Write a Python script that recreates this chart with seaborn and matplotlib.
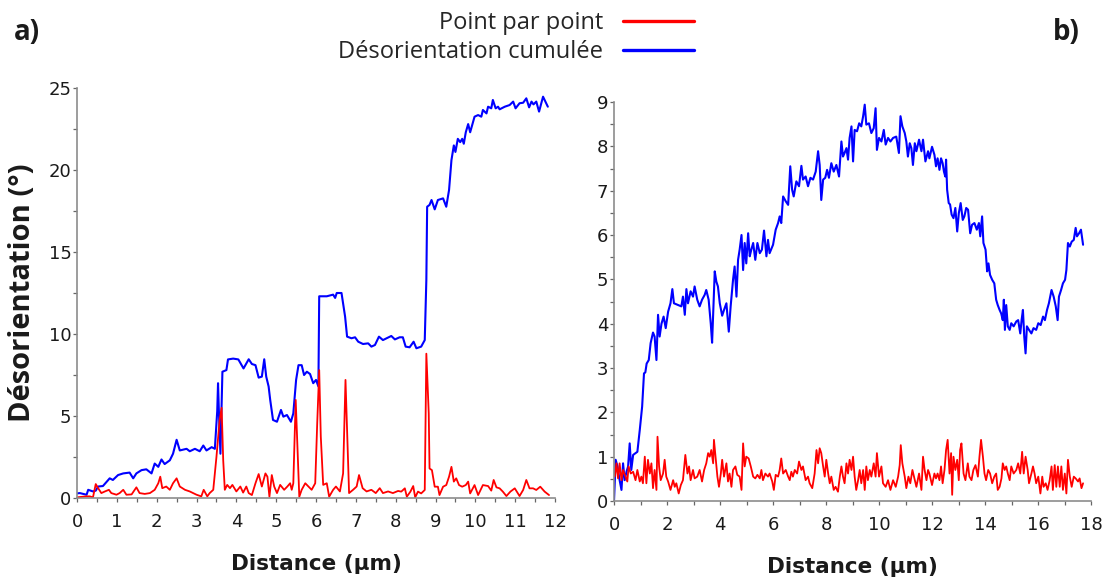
import matplotlib
matplotlib.use("Agg")
import matplotlib.pyplot as plt
import seaborn as sns
from matplotlib.ticker import MultipleLocator
from matplotlib.lines import Line2D

# ---- panel a) : distance (um) / misorientation (deg) ----
a_dist_cum = [0.0, 0.07, 0.24, 0.28, 0.4, 0.47, 0.53, 0.65, 0.82, 0.9,
              1.03, 1.16, 1.32, 1.41, 1.49, 1.62, 1.74, 1.87, 1.95, 2.04,
              2.12, 2.2, 2.33, 2.41, 2.5, 2.58, 2.75, 2.83, 2.96, 3.08,
              3.17, 3.25, 3.38, 3.46, 3.52, 3.54, 3.56, 3.6, 3.65, 3.75,
              3.79, 3.92, 4.05,
              4.18, 4.31, 4.39, 4.48, 4.56, 4.64, 4.7, 4.75, 4.81, 4.85,
              4.92, 5.02, 5.12, 5.18, 5.27, 5.37, 5.43, 5.5, 5.56, 5.64,
              5.7, 5.77, 5.85, 5.93, 6.0, 6.06, 6.08, 6.27, 6.43, 6.48,
              6.52, 6.64, 6.73, 6.78, 6.89, 6.98, 7.06, 7.18, 7.31, 7.39,
              7.48, 7.58, 7.68, 7.77, 7.89, 7.98,
              8.1, 8.18, 8.25, 8.35, 8.45, 8.52, 8.64, 8.73, 8.77, 8.79,
              8.85, 8.9, 8.98, 9.06, 9.19, 9.27, 9.34, 9.4, 9.46, 9.5,
              9.56, 9.62, 9.67, 9.71, 9.76, 9.82, 9.87, 9.98, 10.07, 10.15,
              10.19, 10.28, 10.32, 10.4, 10.44, 10.51, 10.57, 10.61, 10.74, 10.86,
              10.95, 11.01, 11.11, 11.2, 11.28, 11.35, 11.41, 11.46, 11.53, 11.6,
              11.7, 11.82]
a_cum = [0.28, 0.3, 0.2, 0.5, 0.4, 0.45, 0.7, 0.73, 1.2, 1.1,
         1.4, 1.5, 1.55, 1.2, 1.5, 1.7, 1.75, 1.5, 2.1, 1.9,
         2.35, 2.07, 2.3, 2.7, 3.55, 2.9, 3.0, 2.85, 3.0, 2.85,
         3.2, 2.9, 3.1, 3.0, 5.3, 7.0, 5.4, 2.7, 7.7, 7.8,
         8.45, 8.5, 8.45,
         7.9, 8.46, 8.17, 8.1, 7.34, 7.4, 8.46, 7.4, 6.8, 5.98,
         4.76, 4.65, 5.37, 4.96, 5.06, 4.65, 5.16, 7.2, 8.1, 8.1,
         7.5, 7.7, 7.56, 7.0, 7.2, 6.8, 12.3, 12.3, 12.4, 12.2,
         12.5, 12.5, 11.06, 9.84, 9.74, 9.8, 9.53, 9.39, 9.43, 9.23,
         9.33, 9.84, 9.63, 9.74, 9.88, 9.67,
         9.8, 9.8, 9.23, 9.19, 9.53, 9.13, 9.23, 9.63, 13.3, 17.76,
         17.87, 18.17, 17.6, 18.17, 18.27, 17.76, 18.78, 20.6, 21.5, 21.1,
         21.9, 21.7, 21.9, 21.6, 22.3, 22.8, 22.3, 23.25, 23.35, 23.25,
         23.66, 23.45, 23.86, 23.76, 24.27, 23.76, 23.86, 23.7, 23.86, 23.96,
         24.17, 23.76, 24.07, 24.1, 24.37, 23.82, 24.17, 24.0, 24.17, 23.56,
         24.47, 23.86]

a_dist_pp = [0.0, 0.23, 0.32, 0.4, 0.47, 0.53, 0.61, 0.7, 0.8, 0.86,
             0.99, 1.07, 1.16, 1.24, 1.37, 1.49, 1.57, 1.7, 1.83, 1.95,
             2.04, 2.09, 2.14, 2.24, 2.33, 2.41, 2.5, 2.58, 2.71, 2.83,
             3.0, 3.12, 3.18, 3.27, 3.33, 3.42, 3.5, 3.58, 3.63, 3.67,
             3.71, 3.77, 3.84, 3.9, 4.0,
             4.1, 4.17, 4.25, 4.31, 4.39, 4.48, 4.56, 4.64, 4.73, 4.78,
             4.83, 4.89, 4.95, 5.02, 5.1, 5.2, 5.28, 5.35, 5.39, 5.43,
             5.49, 5.54, 5.58, 5.64, 5.73, 5.81, 5.89, 5.98, 6.03, 6.08,
             6.12, 6.18, 6.27, 6.33, 6.43, 6.5, 6.6, 6.68, 6.74, 6.78,
             6.83, 6.93, 7.02, 7.08, 7.17, 7.27, 7.39, 7.5, 7.6, 7.68,
             7.81, 7.93, 8.06,
             8.14, 8.23, 8.28, 8.37, 8.44, 8.49, 8.56, 8.64, 8.73, 8.77,
             8.79, 8.83, 8.85, 8.91, 8.98, 9.06, 9.1, 9.19, 9.27, 9.34,
             9.4, 9.46, 9.52, 9.59, 9.67, 9.76, 9.82, 9.87, 9.98, 10.07,
             10.19, 10.32, 10.4, 10.46, 10.53, 10.61, 10.69, 10.78, 10.88, 10.99,
             11.11, 11.2, 11.28, 11.36, 11.45, 11.53, 11.63, 11.74, 11.85]
a_pp = [0.04, 0.1, 0.1, 0.04, 0.85, 0.6, 0.3, 0.4, 0.5, 0.3,
        0.2, 0.3, 0.5, 0.2, 0.22, 0.65, 0.3, 0.25, 0.3, 0.5,
        0.9, 1.3, 0.6, 0.7, 0.5, 0.9, 1.2, 0.7, 0.5, 0.4,
        0.2, 0.1, 0.5, 0.1, 0.3, 0.5, 2.5, 4.75, 5.5, 2.3,
        0.5, 0.8, 0.6, 0.8, 0.4,
        0.7, 0.33, 0.7, 0.3, 0.18, 0.9, 1.46, 0.7, 1.5, 1.3,
        0.08, 1.4, 0.7, 0.3, 0.8, 0.5, 0.7, 0.9, 0.5, 0.9,
        5.98, 2.7, 0.08, 0.5, 0.9, 0.7, 0.5, 0.9, 4.55, 7.8,
        3.74, 0.8, 0.9, 0.08, 0.5, 0.7, 0.4, 1.5, 7.2, 4.15,
        0.3, 0.5, 0.7, 1.4, 0.6, 0.4, 0.5, 0.3, 0.6, 0.3,
        0.4, 0.3, 0.43,
        0.39, 0.59, 0.08, 0.39, 0.73, 0.04, 0.39, 0.28, 0.49, 8.8,
        7.6, 5.16, 1.8, 1.7, 0.69, 0.69, 0.18, 0.69, 0.79, 1.3,
        1.9, 1.0, 1.2, 0.79, 0.69, 0.79, 1.0, 0.28, 0.79, 0.18,
        0.79, 0.73, 0.45, 1.1, 0.65, 0.59, 0.39, 0.12, 0.39, 0.59,
        0.12, 0.49, 1.1, 0.59, 0.59, 0.49, 0.69, 0.39, 0.18]

# ---- panel b) ----
b_dist_cum = [0.0, 0.06, 0.13, 0.21, 0.28, 0.34, 0.4, 0.47, 0.53, 0.59,
              0.65, 0.72, 0.81, 0.88, 0.97, 1.06, 1.13, 1.18, 1.23, 1.31,
              1.38, 1.47, 1.53, 1.6, 1.66, 1.72, 1.79, 1.87, 1.95, 2.04,
              2.13, 2.2, 2.26, 2.42, 2.54, 2.6, 2.67, 2.73, 2.79, 2.89,
              2.98, 3.04, 3.14, 3.23, 3.32, 3.42, 3.48, 3.57, 3.65, 3.7,
              3.75, 3.8, 3.86, 3.92, 3.99, 4.08, 4.15, 4.24, 4.33, 4.4,
              4.49, 4.55, 4.62, 4.68, 4.74, 4.81, 4.87, 4.93, 4.99, 5.06,
              5.12, 5.18, 5.25, 5.33, 5.41, 5.5, 5.58, 5.66, 5.75, 5.81,
              5.87,
              6.0, 6.1, 6.19, 6.25, 6.31, 6.38, 6.48, 6.57, 6.65, 6.72,
              6.78, 6.88, 6.98, 7.07, 7.13, 7.23, 7.32, 7.41, 7.51, 7.61,
              7.7, 7.76, 7.82, 7.89, 7.97, 8.04, 8.11, 8.2, 8.29, 8.39,
              8.49, 8.58, 8.64, 8.7, 8.77, 8.83, 8.89, 8.96, 9.02, 9.08,
              9.17, 9.25, 9.33, 9.4, 9.46, 9.52, 9.62, 9.71, 9.8, 9.87,
              9.92, 10.0, 10.09, 10.18, 10.25, 10.34, 10.43, 10.53, 10.65, 10.75,
              10.81, 10.88, 10.97, 11.03, 11.09, 11.16, 11.22, 11.28, 11.35, 11.41,
              11.51, 11.6, 11.66, 11.75, 11.85,
              11.9, 12.0, 12.09, 12.15, 12.21, 12.28, 12.34, 12.4, 12.45, 12.5,
              12.53, 12.57, 12.63, 12.68, 12.74, 12.81, 12.88, 12.95, 13.01, 13.08,
              13.16, 13.22, 13.29, 13.36, 13.44, 13.51, 13.6, 13.69, 13.77, 13.82,
              13.89, 13.94, 14.02, 14.08, 14.13, 14.19, 14.27, 14.35, 14.42, 14.48,
              14.55, 14.61, 14.67, 14.71, 14.75, 14.8, 14.86, 14.93, 14.99, 15.08,
              15.18, 15.25, 15.33, 15.38, 15.43, 15.48, 15.53, 15.58, 15.66, 15.75,
              15.83, 15.93, 16.01, 16.1, 16.19, 16.26, 16.34, 16.41, 16.51, 16.59,
              16.67, 16.74, 16.79, 16.87, 16.94, 17.02, 17.07, 17.13, 17.2, 17.27,
              17.35, 17.42, 17.47, 17.55, 17.62, 17.7]
b_cum = [0.02, 0.93, 0.78, 0.47, 0.25, 0.85, 0.47, 0.66, 0.78, 1.3,
         0.7, 1.04, 1.08, 1.11, 1.6, 2.13, 2.88, 2.9, 3.1, 3.18,
         3.56, 3.8, 3.71, 3.18, 4.2, 3.71, 4.0, 4.16, 3.9, 4.27,
         4.46, 4.78, 4.46, 4.42, 4.39, 4.61, 4.2, 4.78, 4.46, 4.73,
         4.61, 4.84, 4.54, 4.39, 4.54, 4.65, 4.76, 4.54, 4.0, 3.57,
         4.39, 5.18, 4.95, 4.84, 4.46, 4.18, 4.31, 4.46, 3.82, 4.39,
         4.99, 5.29, 4.61, 5.44, 5.67, 6.0, 5.21, 5.82, 5.36, 6.04,
         5.52, 5.67, 5.82, 5.44, 5.82, 5.59, 5.67, 6.1, 5.52, 5.89,
         5.59,
         5.78, 6.12, 6.27, 6.42, 6.27, 6.87, 6.76, 6.68, 7.55, 7.02,
         6.87, 7.21, 7.1, 7.56, 7.25, 7.32, 7.1, 7.29, 7.25, 7.43,
         7.89, 7.58, 6.79, 7.25, 7.29, 7.47, 7.29, 7.62, 7.43, 7.58,
         7.32, 8.11, 7.77, 7.85, 7.96, 7.7, 8.19, 8.45, 7.66, 8.37,
         8.34, 8.52, 8.45, 8.68, 8.94, 8.49, 8.52, 8.3, 8.41, 8.86,
         7.92, 8.19, 8.11, 8.37, 8.04, 8.19, 8.11, 8.19, 8.22, 7.85,
         8.68, 8.45, 8.3, 8.11, 7.77, 8.07, 7.96, 7.58, 8.07, 7.89,
         8.15, 7.89, 8.15, 7.66, 7.89,
         7.73, 7.99, 7.81, 7.55, 7.73, 7.47, 7.73, 7.62, 7.43, 7.32,
         7.7, 7.02, 6.72, 6.69, 6.46, 6.38, 6.61, 6.08, 6.49, 6.72,
         6.34, 6.42, 6.61, 6.57, 6.04, 6.23, 6.27, 6.12, 6.27, 5.97,
         6.42, 5.82, 5.67, 5.18, 5.36, 5.1, 4.99, 4.91, 4.54, 4.42,
         4.31, 4.23, 4.08, 4.54, 3.86, 4.42, 3.94, 3.86, 4.01, 3.94,
         4.05, 4.08, 3.78, 4.08, 4.31, 3.71, 3.33, 3.94, 3.86, 3.78,
         3.9, 3.86, 4.01, 3.97, 4.16, 4.08, 4.31, 4.46, 4.76, 4.61,
         4.39, 4.08, 4.61, 4.76, 4.91, 4.99, 5.21, 5.82, 5.74, 5.85,
         5.89, 6.16, 5.97, 6.04, 6.12, 5.78]

b_dist_pp = [0.03, 0.09, 0.15, 0.21, 0.28, 0.34, 0.43, 0.5, 0.55, 0.63,
             0.72, 0.81, 0.88, 0.97, 1.03, 1.09, 1.16, 1.22, 1.28, 1.35,
             1.41, 1.47, 1.53, 1.6, 1.64, 1.7, 1.76, 1.85, 1.91, 1.97,
             2.04, 2.13, 2.23, 2.29, 2.35, 2.44, 2.52, 2.6, 2.69, 2.77,
             2.83, 2.89, 2.98, 3.04, 3.14, 3.23, 3.32, 3.4, 3.48, 3.55,
             3.61, 3.67, 3.74, 3.77, 3.84, 3.9, 3.96, 4.03, 4.08, 4.15,
             4.24, 4.3, 4.36, 4.43, 4.49, 4.58, 4.65, 4.74, 4.81, 4.87,
             4.93, 4.99, 5.08, 5.16, 5.25, 5.33, 5.41, 5.5, 5.56, 5.62,
             5.71, 5.81,
             5.87, 5.97, 6.03, 6.1, 6.19, 6.25, 6.31, 6.38, 6.48, 6.57,
             6.63, 6.69, 6.75, 6.82, 6.91, 6.98, 7.07, 7.13, 7.23, 7.32,
             7.38, 7.48, 7.57, 7.64, 7.7, 7.76, 7.82, 7.89, 7.95, 8.01,
             8.08, 8.14, 8.2, 8.29, 8.36, 8.45, 8.52, 8.58, 8.64, 8.7,
             8.77, 8.83, 8.89, 8.96, 9.02, 9.08, 9.14, 9.21, 9.27, 9.33,
             9.4, 9.46, 9.52, 9.58, 9.65, 9.71, 9.8, 9.87, 9.92, 10.0,
             10.09, 10.15, 10.25, 10.34, 10.43, 10.53, 10.63, 10.72, 10.78, 10.82,
             10.88, 10.97, 11.03, 11.11, 11.18, 11.26, 11.35, 11.41, 11.51, 11.6,
             11.66, 11.72, 11.79, 11.85,
             11.9, 12.0, 12.09, 12.15, 12.21, 12.28, 12.34, 12.4, 12.47, 12.53,
             12.59, 12.66, 12.72, 12.76, 12.81, 12.88, 12.95, 13.01, 13.06, 13.11,
             13.19, 13.26, 13.35, 13.41, 13.49, 13.56, 13.64, 13.73, 13.79, 13.85,
             13.92, 13.98, 14.04, 14.12, 14.19, 14.27, 14.35, 14.42, 14.48, 14.55,
             14.62, 14.67, 14.74, 14.8, 14.86, 14.93, 14.99, 15.08, 15.18, 15.25,
             15.33, 15.4, 15.46, 15.53, 15.61, 15.66, 15.75, 15.81, 15.87, 15.93,
             16.01, 16.09, 16.16, 16.21, 16.29, 16.36, 16.44, 16.51, 16.56, 16.63,
             16.69, 16.75, 16.82, 16.88, 16.94, 17.01, 17.07, 17.13, 17.2, 17.27,
             17.35, 17.42, 17.51, 17.57, 17.64, 17.7]
b_pp = [0.55, 0.85, 0.51, 0.85, 0.47, 0.7, 0.55, 0.44, 0.78, 0.62,
        0.66, 0.47, 0.7, 0.44, 0.55, 0.4, 1.0, 0.4, 0.93, 0.62,
        0.85, 0.29, 0.7, 0.25, 1.45, 0.78, 0.47, 0.62, 0.93, 0.55,
        0.44, 0.25, 0.47, 0.32, 0.4, 0.17, 0.36, 0.47, 1.04, 0.62,
        0.78, 0.47, 0.7, 0.51, 0.55, 0.7, 0.44, 0.7, 0.85, 1.08,
        1.0, 1.15, 0.85, 1.38, 0.93, 0.55, 0.32, 0.62, 0.93, 0.55,
        0.85, 0.44, 0.62, 0.32, 0.7, 0.78, 0.59, 0.55, 0.25, 1.3,
        0.78, 1.0, 0.96, 0.78, 0.55, 0.51, 0.59, 0.51, 0.7, 0.47,
        0.62, 0.55,
        0.62, 0.44, 0.25, 0.59, 0.55, 0.7, 0.96, 0.62, 0.7, 0.55,
        0.47, 0.66, 0.55, 0.7, 0.62, 0.89, 0.7, 0.78, 0.47, 0.55,
        0.4, 0.29, 0.62, 1.15, 0.85, 1.19, 1.08, 0.78, 0.55, 0.93,
        0.62, 0.4, 0.55, 0.25, 0.32, 0.21, 0.55, 0.78, 0.55, 0.4,
        0.85, 0.62, 0.93, 0.7, 1.0, 0.55, 0.25, 0.47, 0.7, 0.4,
        0.7, 0.25, 0.78, 0.47, 0.7, 0.55, 0.85, 0.55, 1.08, 0.55,
        0.78, 0.4, 0.32, 0.47, 0.25, 0.47, 0.32, 0.55, 0.81, 1.26,
        0.85, 0.55, 0.29, 0.55, 0.4, 0.7, 0.47, 0.32, 0.62, 0.25,
        1.0, 0.7, 0.47, 0.7,
        0.62, 0.36, 0.62, 0.51, 0.62, 0.47, 0.78, 0.4, 0.7, 1.15,
        1.38, 0.62, 1.08, 0.14, 1.0, 0.7, 0.93, 0.47, 1.15, 1.3,
        0.62, 0.47, 0.85, 0.55, 0.47, 0.7, 0.81, 0.55, 1.0, 1.38,
        1.0, 0.62, 0.47, 0.7, 0.62, 0.4, 0.55, 0.62, 0.25, 0.32,
        0.51, 0.85, 0.7, 0.78, 0.62, 0.47, 0.78, 0.62, 0.7, 0.85,
        0.62, 1.11, 0.62, 1.0, 0.7, 0.4, 0.62, 0.78, 0.62, 0.4,
        0.55, 0.17, 0.55, 0.32, 0.4, 0.25, 0.47, 0.78, 0.25, 0.81,
        0.32, 0.78, 0.32, 0.78, 0.25, 0.62, 0.17, 0.93, 0.55, 0.32,
        0.55, 0.51, 0.44, 0.51, 0.29, 0.4]

legend_labels = ["Point par point", "Désorientation cumulée"]

RED = "#ff0000"
BLUE = "#0000ff"
AXIS_GREY = "#8c8c8c"
TEXT = "#1a1a1a"

sns.set_style("white")
plt.rcParams["font.family"] = ["DejaVu Sans"]
LABEL_FONT = ["Open Sans", "DejaVu Sans"]
NARROW_FONT = ["Liberation Sans Narrow", "DejaVu Sans Condensed", "DejaVu Sans"]


def style_axis(ax, xmax, ymax, xstep, ystep):
    ax.set_xlim(0, xmax)
    ax.set_ylim(0, ymax)
    ax.xaxis.set_major_locator(MultipleLocator(xstep))
    ax.xaxis.set_minor_locator(MultipleLocator(xstep / 2))
    ax.yaxis.set_major_locator(MultipleLocator(ystep))
    ax.yaxis.set_minor_locator(MultipleLocator(ystep / 2))
    sns.despine(ax=ax)
    for side in ("left", "bottom"):
        ax.spines[side].set_color(AXIS_GREY)
        ax.spines[side].set_linewidth(1.2)
    ax.tick_params(which="both", bottom=True, left=True, direction="out",
                   length=3, width=0.9, color="#666666")
    ax.tick_params(axis="x", which="major", pad=8, labelsize=13, labelcolor=TEXT)
    ax.tick_params(axis="y", which="major", pad=1, labelsize=13, labelcolor=TEXT)
    for lab in ax.get_xticklabels():
        lab.set_family(NARROW_FONT)
    ax.set_xlabel("Distance (µm)", fontsize=15.5, fontweight="bold",
                  family=NARROW_FONT, labelpad=16, color=TEXT)


def draw_panel(ax, dist_cum, cum, dist_pp, pp):
    sns.lineplot(x=dist_cum, y=cum, ax=ax, color=BLUE, linewidth=1.5,
                 estimator=None, sort=False)
    sns.lineplot(x=dist_pp, y=pp, ax=ax, color=RED, linewidth=1.3,
                 estimator=None, sort=False)


fig = plt.figure(figsize=(11.1, 5.77), dpi=100)
ax_a = fig.add_axes([0.0694, 0.1369, 0.4306, 0.7106])
ax_b = fig.add_axes([0.5532, 0.1317, 0.4297, 0.6915])

draw_panel(ax_a, a_dist_cum, a_cum, a_dist_pp, a_pp)
style_axis(ax_a, 12, 25, 1, 5)
ax_a.set_ylabel("Désorientation (°)", fontsize=21, fontweight="bold",
                family=LABEL_FONT, labelpad=8, color=TEXT)

draw_panel(ax_b, b_dist_cum, b_cum, b_dist_pp, b_pp)
style_axis(ax_b, 18, 9, 2, 1)
ax_b.set_ylabel("")

handles = [Line2D([], [], color=RED, linewidth=2.4),
           Line2D([], [], color=BLUE, linewidth=2.4)]
fig.legend(handles, legend_labels, loc="upper center",
           bbox_to_anchor=(0.465, 1.017), frameon=False, markerfirst=False,
           handlelength=3.0, handletextpad=0.85, labelspacing=0.2,
           prop={"family": LABEL_FONT, "size": 17})

fig.text(27 / 1110, 1 - 32 / 577, "a)", ha="center", va="center",
         fontsize=20, fontweight="bold", family=LABEL_FONT, color=TEXT)
fig.text(1066 / 1110, 1 - 32 / 577, "b)", ha="center", va="center",
         fontsize=20, fontweight="bold", family=LABEL_FONT, color=TEXT)

fig.savefig("out.png", dpi=100)
